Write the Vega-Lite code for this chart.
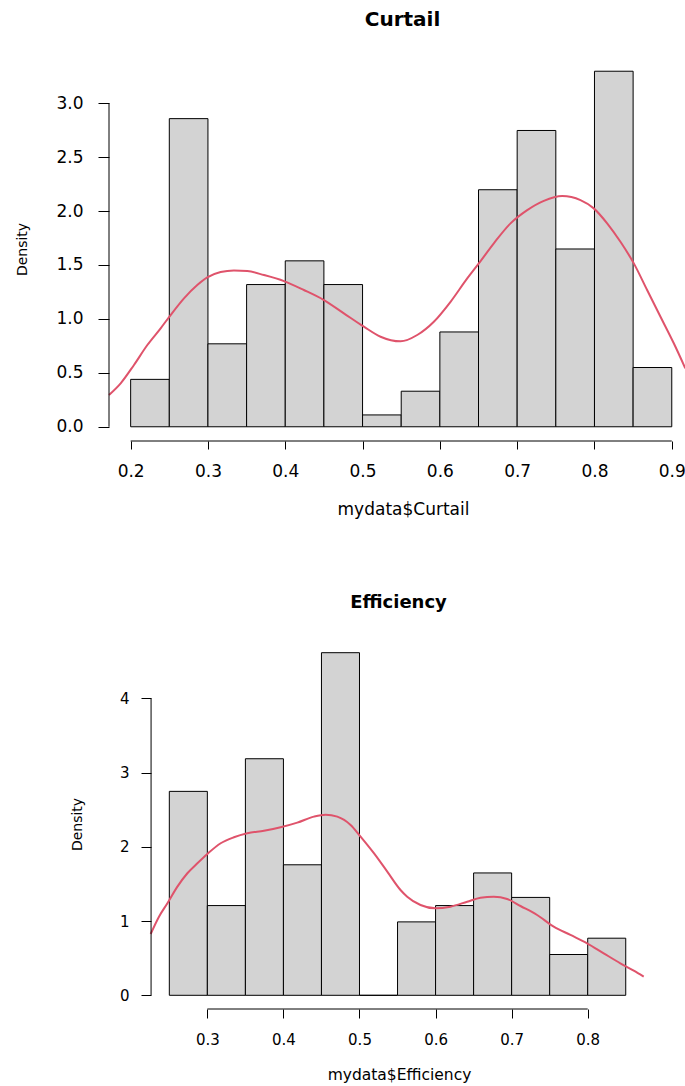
{
  "$schema": "https://vega.github.io/schema/vega-lite/v6.json",
  "padding": {"left": 15, "top": 10, "right": 0, "bottom": 0},
  "background": "white",
  "config": {
    "view": {"stroke": null},
    "font": "DejaVu Sans",
    "axis": {"grid": false, "domain": false, "tickColor": "black", "tickWidth": 1, "labelColor": "black", "titleColor": "black", "labelFont": "DejaVu Sans", "titleFont": "DejaVu Sans", "titleFontWeight": "normal", "labelFlush": false, "labelOverlap": false},
    "title": {"font": "DejaVu Sans", "fontWeight": "bold", "color": "black"}
  },
  "datasets": {
    "curtail_bins": [
      {"bin_start": 0.20, "bin_end": 0.25, "density": 0.4396},
      {"bin_start": 0.25, "bin_end": 0.30, "density": 2.8571},
      {"bin_start": 0.30, "bin_end": 0.35, "density": 0.7692},
      {"bin_start": 0.35, "bin_end": 0.40, "density": 1.3187},
      {"bin_start": 0.40, "bin_end": 0.45, "density": 1.5385},
      {"bin_start": 0.45, "bin_end": 0.50, "density": 1.3187},
      {"bin_start": 0.50, "bin_end": 0.55, "density": 0.1099},
      {"bin_start": 0.55, "bin_end": 0.60, "density": 0.3297},
      {"bin_start": 0.60, "bin_end": 0.65, "density": 0.8791},
      {"bin_start": 0.65, "bin_end": 0.70, "density": 2.1978},
      {"bin_start": 0.70, "bin_end": 0.75, "density": 2.7473},
      {"bin_start": 0.75, "bin_end": 0.80, "density": 1.6484},
      {"bin_start": 0.80, "bin_end": 0.85, "density": 3.2967},
      {"bin_start": 0.85, "bin_end": 0.90, "density": 0.5495}
    ],
    "curtail_kde": [
      {"value": 0.172, "density": 0.295},
      {"value": 0.1871, "density": 0.403},
      {"value": 0.2043, "density": 0.573},
      {"value": 0.2216, "density": 0.758},
      {"value": 0.2388, "density": 0.913},
      {"value": 0.2517, "density": 1.036},
      {"value": 0.2690, "density": 1.191},
      {"value": 0.2862, "density": 1.314},
      {"value": 0.2991, "density": 1.385},
      {"value": 0.3164, "density": 1.435},
      {"value": 0.3336, "density": 1.450},
      {"value": 0.3509, "density": 1.444},
      {"value": 0.3724, "density": 1.407},
      {"value": 0.3983, "density": 1.351},
      {"value": 0.4241, "density": 1.268},
      {"value": 0.4500, "density": 1.175},
      {"value": 0.4758, "density": 1.052},
      {"value": 0.5017, "density": 0.928},
      {"value": 0.5233, "density": 0.835},
      {"value": 0.5491, "density": 0.792},
      {"value": 0.5707, "density": 0.851},
      {"value": 0.5922, "density": 0.974},
      {"value": 0.6138, "density": 1.159},
      {"value": 0.6354, "density": 1.376},
      {"value": 0.6504, "density": 1.515},
      {"value": 0.6698, "density": 1.701},
      {"value": 0.6914, "density": 1.886},
      {"value": 0.7130, "density": 2.009},
      {"value": 0.7345, "density": 2.095},
      {"value": 0.7583, "density": 2.139},
      {"value": 0.7819, "density": 2.102},
      {"value": 0.7991, "density": 2.025},
      {"value": 0.8164, "density": 1.886},
      {"value": 0.8336, "density": 1.715},
      {"value": 0.8509, "density": 1.515},
      {"value": 0.8681, "density": 1.268},
      {"value": 0.8854, "density": 1.020},
      {"value": 0.9026, "density": 0.774},
      {"value": 0.9175, "density": 0.542}
    ],
    "eff_bins": [
      {"bin_start": 0.25, "bin_end": 0.30, "density": 2.7473},
      {"bin_start": 0.30, "bin_end": 0.35, "density": 1.2088},
      {"bin_start": 0.35, "bin_end": 0.40, "density": 3.1868},
      {"bin_start": 0.40, "bin_end": 0.45, "density": 1.7582},
      {"bin_start": 0.45, "bin_end": 0.50, "density": 4.6154},
      {"bin_start": 0.50, "bin_end": 0.55, "density": 0},
      {"bin_start": 0.55, "bin_end": 0.60, "density": 0.9890},
      {"bin_start": 0.60, "bin_end": 0.65, "density": 1.2088},
      {"bin_start": 0.65, "bin_end": 0.70, "density": 1.6484},
      {"bin_start": 0.70, "bin_end": 0.75, "density": 1.3187},
      {"bin_start": 0.75, "bin_end": 0.80, "density": 0.5495},
      {"bin_start": 0.80, "bin_end": 0.85, "density": 0.7692}
    ],
    "eff_kde": [
      {"value": 0.2255, "density": 0.826},
      {"value": 0.2364, "density": 1.059},
      {"value": 0.2475, "density": 1.240},
      {"value": 0.2606, "density": 1.464},
      {"value": 0.2737, "density": 1.644},
      {"value": 0.2869, "density": 1.779},
      {"value": 0.3000, "density": 1.904},
      {"value": 0.3175, "density": 2.048},
      {"value": 0.3349, "density": 2.129},
      {"value": 0.3525, "density": 2.183},
      {"value": 0.3744, "density": 2.218},
      {"value": 0.3963, "density": 2.264},
      {"value": 0.4182, "density": 2.326},
      {"value": 0.4400, "density": 2.407},
      {"value": 0.4554, "density": 2.434},
      {"value": 0.4708, "density": 2.407},
      {"value": 0.4883, "density": 2.295},
      {"value": 0.5014, "density": 2.137},
      {"value": 0.5189, "density": 1.914},
      {"value": 0.5365, "density": 1.666},
      {"value": 0.5539, "density": 1.419},
      {"value": 0.5627, "density": 1.329},
      {"value": 0.5802, "density": 1.217},
      {"value": 0.5999, "density": 1.172},
      {"value": 0.6196, "density": 1.194},
      {"value": 0.6416, "density": 1.261},
      {"value": 0.6590, "density": 1.315},
      {"value": 0.6765, "density": 1.329},
      {"value": 0.6941, "density": 1.298},
      {"value": 0.7116, "density": 1.203},
      {"value": 0.7335, "density": 1.082},
      {"value": 0.7553, "density": 0.925},
      {"value": 0.7773, "density": 0.813},
      {"value": 0.7992, "density": 0.701},
      {"value": 0.8210, "density": 0.566},
      {"value": 0.8429, "density": 0.431},
      {"value": 0.8605, "density": 0.332},
      {"value": 0.8736, "density": 0.251}
    ]
  },
  "spacing": 198,
  "bounds": "flush",
  "vconcat": [
    {
      "width": 577,
      "height": 384,
      "title": {"text": "Curtail", "fontSize": 20, "offset": 11, "baseline": "alphabetic", "dx": 5},
      "layer": [
        {
          "data": {"name": "curtail_bins"},
          "mark": {"type": "rect", "fill": "#D3D3D3", "stroke": "black", "strokeWidth": 1},
          "encoding": {
            "x": {"field": "bin_start", "type": "quantitative", "title": "mydata$Curtail",
              "scale": {"domain": [0.172, 0.9184], "nice": false, "zero": false},
              "axis": {"title": "mydata$Curtail", "values": [0.2, 0.3, 0.4, 0.5, 0.6, 0.7, 0.8, 0.9], "format": ".1f", "labelFontSize": 17, "tickSize": 8, "labelPadding": 14, "titleFontSize": 17, "titlePadding": 22, "titleX": 294}},
            "x2": {"field": "bin_end"},
            "y": {"field": "density", "type": "quantitative", "title": "Density",
              "scale": {"domain": [-0.1319, 3.4286], "nice": false, "zero": false},
              "axis": {"title": "Density", "values": [0, 0.5, 1, 1.5, 2, 2.5, 3], "format": ".1f", "labelFontSize": 17, "tickSize": 11, "labelPadding": 15, "titleFontSize": 14, "titlePadding": 26}},
            "y2": {"datum": 0}
          }
        },
        {
          "data": {"name": "curtail_kde"},
          "mark": {"type": "line", "color": "#DF536B", "strokeWidth": 2, "interpolate": "monotone"},
          "encoding": {
            "x": {"field": "value", "type": "quantitative", "title": "mydata$Curtail"},
            "y": {"field": "density", "type": "quantitative", "title": "Density"}
          }
        },
        {
          "data": {"values": [{}]},
          "mark": {"type": "rule", "color": "black", "strokeWidth": 1},
          "encoding": {
            "x": {"datum": 0.2, "title": "mydata$Curtail"},
            "x2": {"datum": 0.9},
            "y": {"datum": -0.1319, "title": "Density"}
          }
        },
        {
          "data": {"values": [{}]},
          "mark": {"type": "rule", "color": "black", "strokeWidth": 1},
          "encoding": {
            "x": {"datum": 0.172, "title": "mydata$Curtail"},
            "y": {"datum": 0, "title": "Density"},
            "y2": {"datum": 3.0}
          }
        }
      ]
    },
    {
      "width": 535,
      "height": 370,
      "title": {"text": "Efficiency", "fontSize": 18, "offset": 13, "baseline": "alphabetic", "dx": 22},
      "layer": [
        {
          "data": {"name": "eff_bins"},
          "mark": {"type": "rect", "fill": "#D3D3D3", "stroke": "black", "strokeWidth": 1},
          "encoding": {
            "x": {"field": "bin_start", "type": "quantitative", "title": "mydata$Efficiency",
              "scale": {"domain": [0.1707, 0.874], "nice": false, "zero": false},
              "axis": {"title": "mydata$Efficiency", "values": [0.3, 0.4, 0.5, 0.6, 0.7, 0.8], "format": ".1f", "labelFontSize": 15, "tickSize": 9, "labelPadding": 14, "titleFontSize": 15.5, "titlePadding": 20, "titleX": 290}},
            "x2": {"field": "bin_end"},
            "y": {"field": "density", "type": "quantitative", "title": "Density",
              "scale": {"domain": [-0.1846, 4.8], "nice": false, "zero": false},
              "axis": {"title": "Density", "values": [0, 1, 2, 3, 4], "format": "d", "labelFontSize": 15, "tickSize": 10, "labelPadding": 12, "titleFontSize": 14, "titlePadding": 35, "offset": -42}},
            "y2": {"datum": 0}
          }
        },
        {
          "data": {"name": "eff_kde"},
          "mark": {"type": "line", "color": "#DF536B", "strokeWidth": 2, "interpolate": "monotone"},
          "encoding": {
            "x": {"field": "value", "type": "quantitative", "title": "mydata$Efficiency"},
            "y": {"field": "density", "type": "quantitative", "title": "Density"}
          }
        },
        {
          "data": {"values": [{}]},
          "mark": {"type": "rule", "color": "black", "strokeWidth": 1},
          "encoding": {
            "x": {"datum": 0.3, "title": "mydata$Efficiency"},
            "x2": {"datum": 0.8},
            "y": {"datum": -0.1846, "title": "Density"}
          }
        },
        {
          "data": {"values": [{}]},
          "mark": {"type": "rule", "color": "black", "strokeWidth": 1},
          "encoding": {
            "x": {"datum": 0.226, "title": "mydata$Efficiency"},
            "y": {"datum": 0, "title": "Density"},
            "y2": {"datum": 4.0}
          }
        }
      ]
    }
  ]
}
